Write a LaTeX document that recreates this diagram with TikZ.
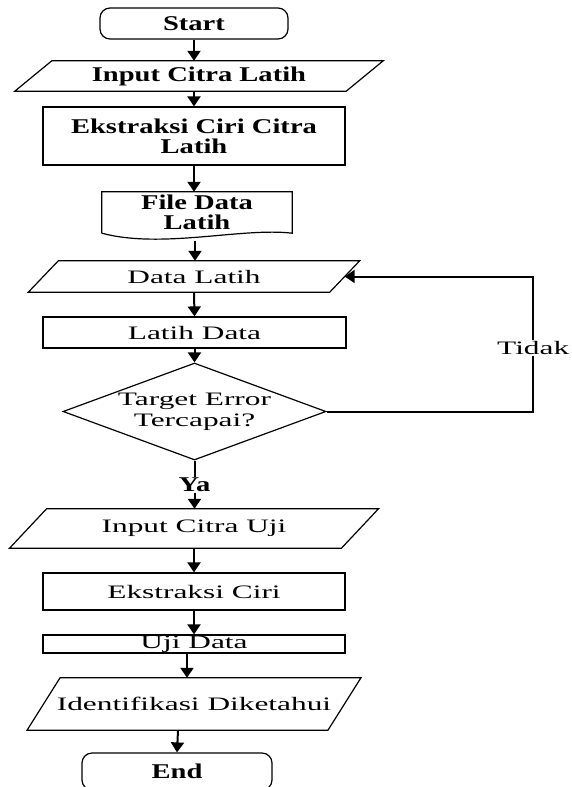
\documentclass[tikz,border=0pt]{standalone}
\usepackage{fontspec}
\setmainfont{Liberation Serif}
\newfontfamily\bsty[FakeStretch=1.36]{Liberation Serif}
\newfontfamily\rsty[FakeStretch=1.65]{Liberation Serif}
\usetikzlibrary{arrows.meta, shapes.geometric}

\begin{document}
\begin{tikzpicture}[
  x=1pt, y=-1pt,
  btxt/.style={font=\bsty\bfseries\fontsize{21}{20}\selectfont, align=center},
  rtxt/.style={font=\rsty\fontsize{19}{21}\selectfont, align=center},
  box/.style={draw, line width=1.2pt},
  term/.style={box, rounded corners=10pt, inner sep=0},
  proc/.style={box, inner sep=0},
  io/.style={inner sep=0},
  doc/.style={inner sep=0},
  decision/.style={box, diamond, aspect=2.7, inner sep=0, minimum width=263pt, minimum height=97pt},
  arr/.style={line width=2pt, -{Triangle[width=13pt,length=10pt]}},
  lbl/.style={fill=white, inner sep=1pt},
]
  \useasboundingbox (0,0) rectangle (571,787);

  % --- training part ---
  \node[term, btxt, minimum width=188pt, minimum height=31pt] (start) at (194,23.5) {Start};
  \node[io, btxt, minimum width=331pt, minimum height=30pt] (inL) at (199,76) {Input Citra Latih};
  \node[proc, btxt, minimum width=302pt, minimum height=58pt] (ekL) at (194,136) {Ekstraksi Ciri Citra\\Latih};
  \node[doc, btxt, minimum width=190pt, minimum height=41pt] (fdata) at (197,212.5) {File Data\\Latih};
  \node[io, rtxt, minimum width=301pt, minimum height=31pt] (dLatih) at (194,276.5) {Data Latih};
  \node[proc, rtxt, minimum width=303pt, minimum height=31pt] (lData) at (194.5,332.5) {Latih Data};
  \node[decision, rtxt] (dec) at (194.5,411.5) {Target Error\\Tercapai?};

  % --- testing part ---
  \node[io, rtxt, minimum width=331.5pt, minimum height=39pt] (inUji) at (194,528.5) {Input Citra Uji};
  \node[proc, rtxt, minimum width=302pt, minimum height=37pt] (ekC) at (194,591.5) {Ekstraksi Ciri};
  \node[proc, rtxt, minimum width=302pt, minimum height=18pt] (uji) at (194,644) {Uji Data};
  \node[io, rtxt, minimum width=300.5pt, minimum height=52pt] (ident) at (194,704) {Identifikasi Diketahui};
  \node[term, btxt, minimum width=190pt, minimum height=37pt] (end) at (177,771.5) {End};

  % --- slanted input/output boxes ---
  \foreach \n/\s in {inL/18.5, dLatih/15, inUji/18.5, ident/16.5}{
    \draw[box] ([xshift=\s pt]\n.north west) -- ([xshift=\s pt]\n.north east)
      -- ([xshift=-\s pt]\n.south east) -- ([xshift=-\s pt]\n.south west) -- cycle;
  }

  % --- document box with wavy bottom ---
  \draw[box] (fdata.south west) -- (fdata.north west) -- (fdata.north east) -- (fdata.south east)
    .. controls +(-50,-6) and +(60,16) .. (fdata.south west);

  % --- flow arrows ---
  \draw[arr] (start.south) -- (start.south |- inL.north);
  \draw[arr] (ekL.north |- inL.south) -- (ekL.north);
  \draw[arr] (ekL.south) -- (ekL.south |- fdata.north);
  \draw[arr] ([xshift=-2pt,yshift=-8pt]fdata.south) -- ([xshift=-2pt]fdata.south |- dLatih.north);
  \draw[arr] (dLatih.south) -- (lData.north);
  \draw[arr] (lData.south) -- (dec.north);
  \draw[arr] (dec.south) -- node[lbl, btxt] {Ya} (dec.south |- inUji.north);
  \draw[arr] (inUji.south) -- (ekC.north);
  \draw[arr] (ekC.south) -- (uji.north);
  \draw[arr] ([xshift=-7pt]uji.south) -- ([xshift=-7pt]uji.south |- ident.north);
  \draw[arr] ([xshift=1pt]end.north |- ident.south) -- (end.north);

  % --- loop back when target not reached ---
  \draw[arr] (dec.east) -| node[lbl, rtxt, pos=0.735] {Tidak} ([xshift=188.5pt]dLatih.east) -- (dLatih.east);
\end{tikzpicture}
\end{document}
